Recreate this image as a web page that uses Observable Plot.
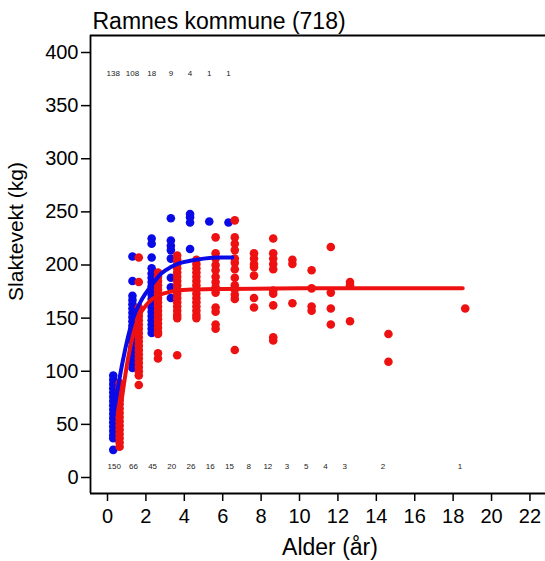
<!DOCTYPE html>
<html>
<head>
<meta charset="utf-8">
<script src="https://cdn.jsdelivr.net/npm/d3@7"></script>
<script src="https://cdn.jsdelivr.net/npm/@observablehq/plot@0.6"></script>
<style>
  html, body { margin: 0; padding: 0; background: white; overflow: hidden; }
  #chart svg { display: block; }
</style>
</head>
<body>
<div id="chart"></div>
<script>
// ---- data ----
const title = "Ramnes kommune (718)";
const xLabel = "Alder (år)";
const yLabel = "Slaktevekt (kg)";
const xTicks = [0, 2, 4, 6, 8, 10, 12, 14, 16, 18, 20, 22];
const yTicks = [0, 50, 100, 150, 200, 250, 300, 350, 400];

// blue group: age class and weights of visible dots
const blueAges = [0, 1, 2, 3, 4, 5, 6];
const blueWeights = [
  [96, 92, 88, 84, 80, 76, 72, 68, 64, 60, 56, 52, 48, 44, 40, 37, 26],
  [208, 185, 171, 167, 163, 159, 155, 151, 147, 143, 139, 135, 131, 127, 123, 119, 115, 111, 107, 103],
  [225, 220, 207, 197, 192, 188, 184, 180, 176, 172, 168, 164, 160, 156, 152, 148, 144, 140, 136],
  [244, 223, 218, 214, 206, 188, 179, 169],
  [248, 245, 240, 215],
  [241],
  [240]
];
const blueCounts = [138, 108, 18, 9, 4, 1, 1];

// red group
const redAges = [0, 1, 2, 3, 4, 5, 6, 7, 8, 9, 10, 11, 12, 14, 18];
const redWeights = [
  [89, 85, 81, 77, 73, 69, 65, 61, 57, 53, 49, 45, 41, 37, 33, 29],
  [207, 184, 160, 156, 152, 148, 144, 140, 136, 132, 128, 124, 120, 116, 112, 108, 104, 100, 96, 87],
  [193, 189, 185, 181, 177, 173, 169, 165, 161, 157, 153, 149, 145, 141, 137, 135, 117, 112],
  [209, 205, 201, 197, 193, 189, 185, 181, 177, 173, 169, 165, 161, 157, 153, 150, 115],
  [205, 201, 197, 193, 189, 185, 181, 177, 173, 169, 165, 161, 157, 153, 150],
  [226, 211, 206, 200, 195, 189, 184, 179, 174, 160, 156, 144, 140],
  [242, 226, 220, 214, 206, 202, 196, 188, 181, 177, 172, 168, 120],
  [211, 206, 201, 198, 190, 169, 160],
  [225, 211, 206, 201, 196, 176, 173, 162, 132, 129],
  [205, 201, 164],
  [195, 178, 161, 157],
  [217, 174, 159, 144],
  [184, 181, 147],
  [135, 109],
  [159]
];
const redCounts = [150, 66, 45, 20, 26, 16, 15, 8, 12, 3, 5, 4, 3, 2, 1];

// fitted curves (age, weight)
const blueCurveAge = [0.3, 0.8, 1.3, 1.8, 2.3, 2.8, 3.3, 3.8, 4.3, 5.0, 5.8, 6.5];
const blueCurveWeight = [58, 110, 148, 168, 181, 192, 198, 202, 204, 206, 207, 207];
const redCurveAge = [0.6, 1.1, 1.6, 2.1, 2.6, 3.1, 3.6, 4.6, 6.0, 10.0, 18.5];
const redCurveWeight = [55, 115, 150, 164, 171, 174, 176, 177, 177.5, 178, 178];

// ---- build tables ----
const blueOffset = 0.3, redOffset = 0.63, blueLabelOffset = 0.3, redLabelOffset = 0.35;
const blueDots = blueAges.flatMap((a, i) => blueWeights[i].map(w => ({age: a + blueOffset, w})));
const redDots = redAges.flatMap((a, i) => redWeights[i].map(w => ({age: a + redOffset, w})));
const blueCurve = blueCurveAge.map((a, i) => ({age: a, w: blueCurveWeight[i]}));
const redCurve = redCurveAge.map((a, i) => ({age: a, w: redCurveWeight[i]}));
const blueLab = blueAges.map((a, i) => ({age: a + blueLabelOffset, n: blueCounts[i]}));
const redLab = redAges.map((a, i) => ({age: a + redLabelOffset, n: redCounts[i]}));
const topCountY = 380, bottomCountY = 10;

const W = 545, H = 561;
const xDomain = [-0.885, 22.81];
const yDomain = [-15.06, 416];
const BLUE = "#0a0ae6", RED = "#ee1111";

const plot = Plot.plot({
  width: W,
  height: H,
  marginLeft: 90,
  marginRight: 0,
  marginTop: 35,
  marginBottom: 68,
  style: {fontFamily: "'Liberation Sans', Arial, sans-serif", background: "white", color: "black"},
  x: {domain: xDomain, ticks: xTicks},
  y: {domain: yDomain, ticks: yTicks},
  marks: [
    Plot.axisX({ticks: xTicks, tickSize: 8, tickPadding: 7, fontSize: 20, label: null, strokeWidth: 1.5}),
    Plot.axisY({ticks: yTicks, tickSize: 9, tickPadding: 3, fontSize: 20, label: null, strokeWidth: 1.5}),
    Plot.ruleX([xDomain[0]], {stroke: "black", strokeWidth: 1.8}),
    Plot.ruleY([yDomain[1]], {stroke: "black", strokeWidth: 2.2}),
    Plot.ruleY([yDomain[0]], {stroke: "black", strokeWidth: 2.2}),
    Plot.dot(blueDots, {x: "age", y: "w", r: 4.3, fill: BLUE, stroke: "none"}),
    Plot.dot(redDots, {x: "age", y: "w", r: 4.3, fill: RED, stroke: "none"}),
    Plot.line(blueCurve, {x: "age", y: "w", stroke: BLUE, strokeWidth: 4, curve: "monotone-x"}),
    Plot.line(redCurve, {x: "age", y: "w", stroke: RED, strokeWidth: 4, curve: "monotone-x"}),
    Plot.text(blueLab, {x: "age", y: () => topCountY, text: "n", fontSize: 8, fill: "#222"}),
    Plot.text(redLab, {x: "age", y: () => bottomCountY, text: "n", fontSize: 8, fill: "#222"}),
    Plot.text([title], {frameAnchor: "top-left", text: d => d, dx: 2, dy: -14, lineAnchor: "middle", textAnchor: "start", fontSize: 23, fill: "black"}),
    Plot.text([yLabel], {frameAnchor: "left", text: d => d, dx: -74, dy: -33, rotate: -90, lineAnchor: "middle", textAnchor: "middle", fontSize: 21, fill: "black"}),
    Plot.text([xLabel], {frameAnchor: "bottom", text: d => d, dx: 12, dy: 54, lineAnchor: "middle", textAnchor: "middle", fontSize: 23, fill: "black"})
  ]
});
document.getElementById("chart").appendChild(plot);
</script>
</body>
</html>
